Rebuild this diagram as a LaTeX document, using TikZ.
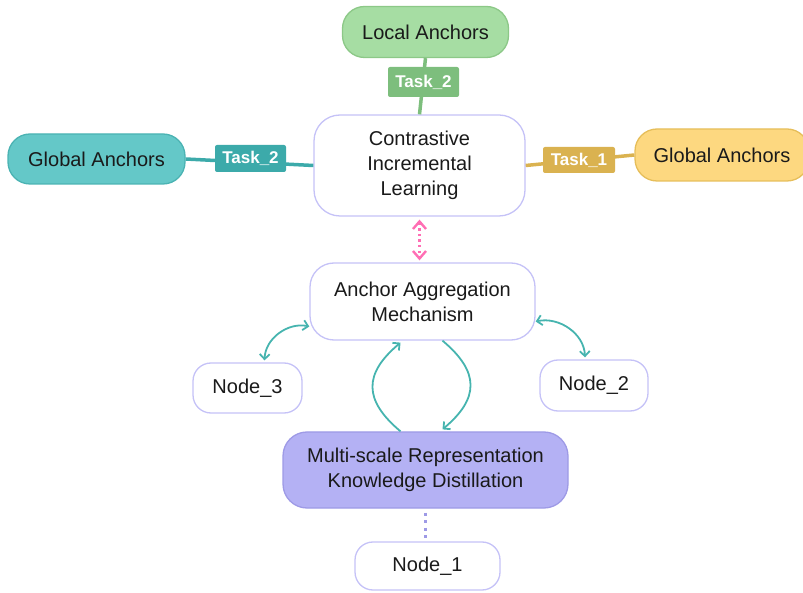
\documentclass[tikz,border=0pt]{standalone}
\usepackage{fontspec}
\setmainfont{Liberation Sans}
\usetikzlibrary{arrows.meta}
\definecolor{txt}{HTML}{1A1A1A}
\definecolor{lav}{HTML}{C5C2F7}
\definecolor{gfill}{HTML}{A6DDA3}
\definecolor{gline}{HTML}{8CC887}
\definecolor{glab}{HTML}{7DBE7D}
\definecolor{tfill}{HTML}{64C8C8}
\definecolor{tline}{HTML}{4BB3B3}
\definecolor{tlab}{HTML}{3CAAAA}
\definecolor{yfill}{HTML}{FDD880}
\definecolor{yline}{HTML}{E6BE5A}
\definecolor{ylab}{HTML}{DAB250}
\definecolor{mfill}{HTML}{B4B1F4}
\definecolor{mline}{HTML}{9E9AE6}
\definecolor{arr}{HTML}{46B4AF}
\definecolor{pink}{HTML}{FF6EB4}
\tikzset{
  box/.style={draw=lav, fill=white, line width=1.3pt, rounded corners=22pt, align=center,
    text=txt, font=\fontsize{20}{25}\selectfont, inner sep=0pt},
  lab/.style={rounded corners=2pt, text=white, font=\bfseries\fontsize{17}{20}\selectfont, inner sep=0pt},
  tarr/.style={draw=arr, line width=1.8pt, {Straight Barb[length=5pt,width=10pt]}-{Straight Barb[length=5pt,width=10pt]}},
  tone/.style={draw=arr, line width=1.8pt, -{Straight Barb[length=5pt,width=10pt]}},
}
\begin{document}
\begin{tikzpicture}[x=1pt,y=1pt]
\useasboundingbox (0,0) rectangle (803,592);
\clip (0,0) rectangle (803,592);
% nodes
\node[box, fill=gfill, draw=gline, minimum width=166pt, minimum height=51pt] (local) at (425.5,560) {Local Anchors};
\node[box, fill=tfill, draw=tline, minimum width=177pt, minimum height=50pt] (gleft) at (96.5,433) {Global Anchors};
\node[box, fill=yfill, draw=yline, minimum width=174pt, minimum height=52pt] (gright) at (722,437) {Global Anchors};
\node[box, minimum width=211pt, minimum height=101pt, rounded corners=26pt] (contr) at (419.5,426.5) {Contrastive\\Incremental\\Learning};
\node[box, minimum width=225pt, minimum height=77pt, rounded corners=24pt] (anchor) at (422.5,290.5) {Anchor Aggregation\\Mechanism};
\node[box, minimum width=109pt, minimum height=50pt, rounded corners=18pt] (node3) at (247.5,204) {Node\_3};
\node[box, minimum width=108pt, minimum height=51pt, rounded corners=18pt] (node2) at (594,206.5) {Node\_2};
\node[box, fill=mfill, draw=mline, minimum width=285pt, minimum height=76pt, rounded corners=24pt] (multi) at (425.5,122) {Multi-scale Representation\\Knowledge Distillation};
\node[box, minimum width=145pt, minimum height=48pt, rounded corners=18pt] (node1) at (427.5,26) {Node\_1};
% task connectors
\draw[glab, line width=3.5pt] (local.south) -- (contr.north);
\draw[tlab, line width=3.5pt] (gleft.east) -- (contr.west);
\draw[ylab, line width=3.5pt] (contr.east) -- (gright.west);
\node[lab, fill=glab, minimum width=71pt, minimum height=30pt] (lg) at (423.5,510) {Task\_2};
\node[lab, fill=tlab, minimum width=71pt, minimum height=27pt] (lt) at (250.5,433.5) {Task\_2};
\node[lab, fill=ylab, minimum width=72pt, minimum height=26pt] (ly) at (579,432) {Task\_1};
% pink dotted double arrow
\draw[pink, line width=2.4pt, dash pattern=on 2.4pt off 3.2pt, shorten <=3pt, shorten >=2pt,
  {Straight Barb[length=7.5pt,width=13pt]}-{Straight Barb[length=7.5pt,width=13pt]}]
  (contr.south) -- (contr.south |- anchor.north);
% teal arrows
\draw[tarr] ([yshift=-25pt]anchor.west) to[out=168,in=88] ([xshift=17pt,yshift=2pt]node3.north);
\draw[tarr] ([yshift=-20pt]anchor.east) to[out=12,in=92] ([xshift=-9pt,yshift=2pt]node2.north);
\draw[tone] ([xshift=-25pt]multi.north) to[out=140,in=220,looseness=1.4] ([xshift=-22pt,yshift=-2pt]anchor.south);
\draw[tone] ([xshift=20pt]anchor.south) to[out=-40,in=40,looseness=1.4] ([xshift=17pt,yshift=2pt]multi.north);
% dotted connector
\draw[mline, line width=3pt, dash pattern=on 3pt off 4.5pt, shorten <=4pt, shorten >=3pt] (multi.south) -- (multi.south |- node1.north);
\end{tikzpicture}
\end{document}
